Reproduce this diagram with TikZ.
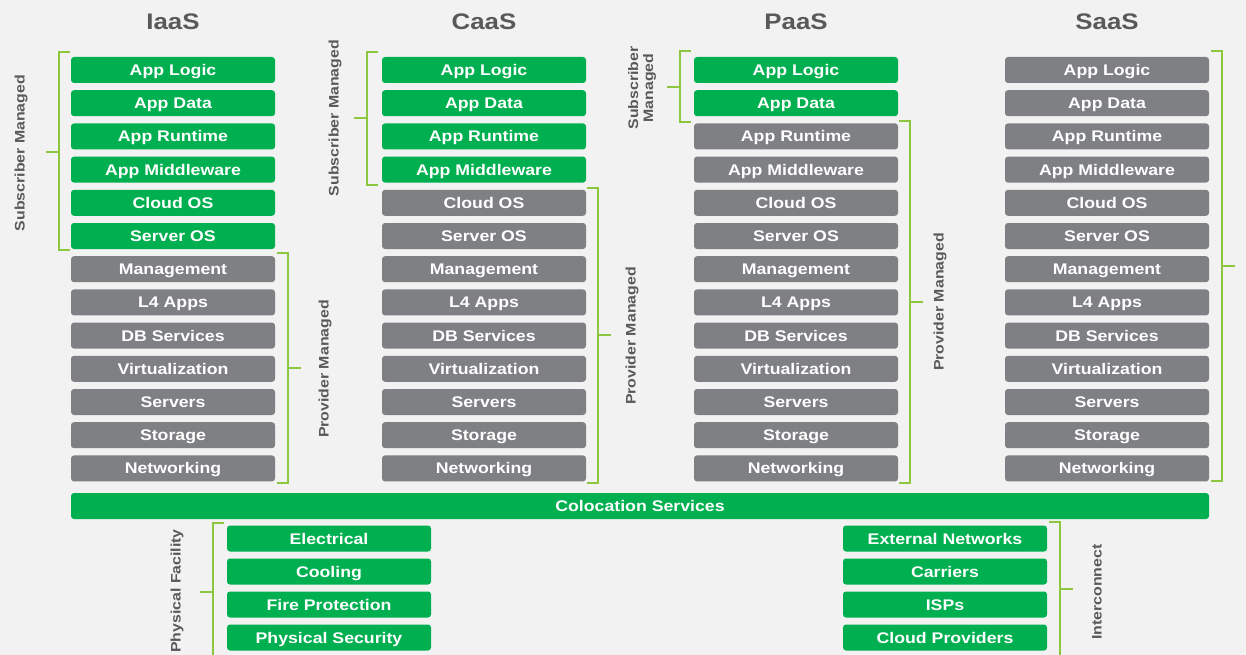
\documentclass[tikz,border=0pt]{standalone}
\usepackage{fontspec}
\setmainfont{Liberation Sans}[FakeStretch=1.15]
\usepackage{tikz}
\usepackage{xcolor}
\usetikzlibrary{positioning}

\definecolor{subgreen}{HTML}{00B050}
\definecolor{provgray}{HTML}{7F8084}
\definecolor{bracegreen}{HTML}{8DC63F}
\definecolor{labelgray}{HTML}{595959}
\definecolor{bggray}{HTML}{F2F2F2}

\tikzset{
  layer/.style={rounded corners=3pt, minimum width=204pt, minimum height=26pt,
    inner sep=0pt, text height=11pt, text depth=0pt, text=white,
    font=\fontsize{15.4}{16}\selectfont\bfseries},
  brk/.style={bracegreen, line width=1.7pt},
  side/.style={rotate=90, text=labelgray, align=center,
    font=\fontsize{13.8}{15}\selectfont\bfseries},
  model/.style={text=labelgray, font=\fontsize{22.5}{24}\selectfont\bfseries}
}

% bracket: x, top, bottom, tip y, tip direction (1 right, -1 left)
\newcommand{\mgdbrace}[5]{%
  \draw[brk] ({#1-(#5)*11},#2) -- (#1,#2) -- (#1,#3) -- ({#1-(#5)*11},#3);
  \draw[brk] (#1,#4) -- ({#1+(#5)*13},#4);
}

\begin{document}
\begin{tikzpicture}[x=1pt, y=-1pt]
\useasboundingbox (0,0) rectangle (1246,655);
\fill[bggray] (0,0) rectangle (1246,655);

%stacks
\foreach \col/\cx/\ng/\ttl in {iaas/173/6/IaaS, caas/484/4/CaaS, paas/796/2/PaaS, saas/1107/0/SaaS} {
  \node[model] (\col-title) at (\cx, 22) {\ttl};
  \foreach \lbl [count=\r] in {App Logic, App Data, App Runtime, App Middleware,
      Cloud OS, Server OS, Management, L4 Apps, DB Services, Virtualization,
      Servers, Storage, Networking} {
    \ifnum\r>\ng \def\fc{provgray}\else\def\fc{subgreen}\fi
    \node[layer, fill=\fc] (\col-\r) at (\cx, {70+33.2*(\r-1)}) {\lbl};
  }
}

%colocation
\node[layer, fill=subgreen, minimum width=1138pt] (coloc) at (640, 506) {Colocation Services};
\foreach \lbl [count=\r] in {Electrical, Cooling, Fire Protection, Physical Security}
  \node[layer, fill=subgreen] (phys-\r) at (329, {538.5+33*(\r-1)}) {\lbl};
\foreach \lbl [count=\r] in {External Networks, Carriers, ISPs, Cloud Providers}
  \node[layer, fill=subgreen] (inter-\r) at (945, {538.5+33*(\r-1)}) {\lbl};

%brackets
\mgdbrace{59}{52}{250}{152}{-1}
\mgdbrace{288}{253}{483}{368}{1}
\mgdbrace{367}{52}{185}{118}{-1}
\mgdbrace{598}{188}{483}{335}{1}
\mgdbrace{680}{51}{122}{87}{-1}
\mgdbrace{910}{121}{483}{302}{1}
\mgdbrace{1222}{51}{481}{266}{1}
\mgdbrace{213}{523}{660}{592}{-1}
\mgdbrace{1060}{522}{660}{589}{1}

\node[side] (iaas-sub) at (21, 153) {Subscriber Managed};
\node[side] (iaas-prov) at (325, 369) {Provider Managed};
\node[side] (caas-sub) at (335, 118) {Subscriber Managed};
\node[side] (caas-prov) at (632, 336) {Provider Managed};
\node[side] (paas-sub) at (642, 88) {Subscriber\\Managed};
\node[side] (paas-prov) at (940, 302) {Provider Managed};
\node[side] (phys-lbl) at (177, 591) {Physical Facility};
\node[side] (inter-lbl) at (1097, 592) {Interconnect};
\end{tikzpicture}
\end{document}
